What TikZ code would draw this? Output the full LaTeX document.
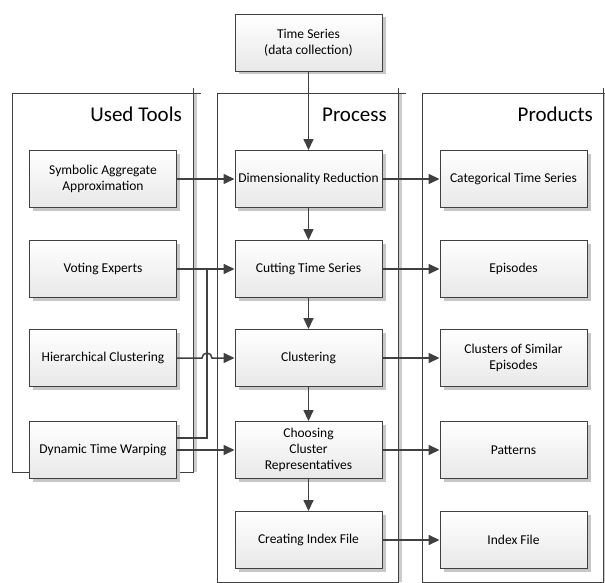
\documentclass[tikz,border=0pt]{standalone}
\usepackage{fontspec}
\setmainfont{Carlito}
\usetikzlibrary{arrows.meta,shadows}
\definecolor{lineGray}{RGB}{64,64,64}

\begin{document}
\begin{tikzpicture}[x=1pt,y=-1pt,
  box/.style={draw=lineGray,line width=0.9pt,top color=white,bottom color=black!9,minimum width=147pt,minimum height=57pt,
    align=center,font=\fontsize{13.5}{16}\selectfont,
    drop shadow={shadow xshift=3.5pt,shadow yshift=-3.5pt,fill=black!22,opacity=1}},
  lane/.style={draw=lineGray,line width=0.9pt},
  title/.style={anchor=base east,inner sep=0pt,font=\fontsize{21}{24}\selectfont},
  flow/.style={draw=lineGray,line width=1.5pt,-{Triangle[length=11pt,width=10pt]}},
  link/.style={draw=lineGray,line width=1.5pt}]
\useasboundingbox (0,0) rectangle (605,583);
% swimlanes
\foreach \xa/\xb/\yb in {12/193/472,217/398/582,422/603/582}{
  \fill[black!20] (\xb,93) rectangle ({\xb+3.5},\yb);
  \draw[lane] (\xa,93) rectangle (\xb,\yb);
  \draw[lane] (\xb,88) -- (\xb,93) -- ({\xb+8},93);
}
\node[title] (tools) at (182,122) {Used Tools};
\node[title] (proc) at (387,122) {Process};
\node[title] (prod) at (593,122) {Products};
% process
\node[box] (ts) at (308.5,42.5) {Time Series\\(data collection)};
\node[box] (dr) at (308.5,179) {Dimensionality Reduction};
\node[box] (cts) at (308.5,269) {Cutting Time Series};
\node[box] (clu) at (308.5,358) {Clustering};
\node[box] (crep) at (308.5,450) {Choosing\\Cluster\\Representatives};
\node[box] (cidx) at (308.5,540) {Creating Index File};
% tools
\node[box] (sax) at (103,179) {Symbolic Aggregate\\Approximation};
\node[box] (ve) at (103,269) {Voting Experts};
\node[box] (hc) at (103,358) {Hierarchical Clustering};
\node[box] (dtw) at (103,450) {Dynamic Time Warping};
% products
\node[box] (cat) at (513.5,179) {Categorical Time Series};
\node[box] (epi) at (513.5,269) {Episodes};
\node[box] (csim) at (513.5,358) {Clusters of Similar\\Episodes};
\node[box] (pat) at (513.5,450) {Patterns};
\node[box] (idx) at (513.5,540) {Index File};
% connectors
\draw[flow] (ts) -- (dr);
\draw[flow] (dr) -- (cts);
\draw[flow] (cts) -- (clu);
\draw[flow] (clu) -- (crep);
\draw[flow] (crep) -- (cidx);
\draw[flow] (sax) -- (dr);
\draw[flow] (ve) -- (cts);
\draw[flow] (hc.east) -- (202,358) arc (180:360:5) -- (clu.west);
\draw[flow] (dtw) -- (crep);
\coordinate (vejoin) at (207,269);
\draw[link] (dtw.east) ++(0,-12) -| (vejoin);
\draw[flow] (dr) -- (cat);
\draw[flow] (cts) -- (epi);
\draw[flow] (clu) -- (csim);
\draw[flow] (crep) -- (pat);
\draw[flow] (cidx) -- (idx);
\end{tikzpicture}
\end{document}
